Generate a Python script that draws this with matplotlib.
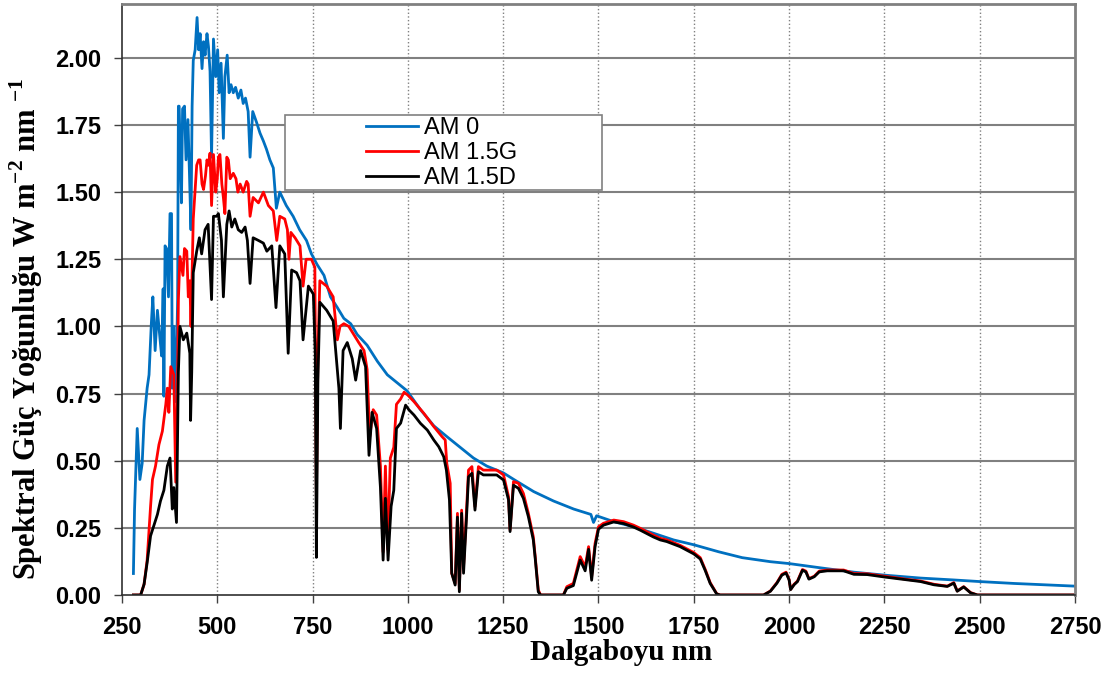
import matplotlib
matplotlib.use("Agg")
import matplotlib.pyplot as plt
from matplotlib.patches import Rectangle

plt.rcParams['mathtext.fontset'] = 'custom'
plt.rcParams['mathtext.rm'] = 'Liberation Serif:bold'
plt.rcParams['mathtext.bf'] = 'Liberation Serif:bold'

# values (nm, W m-2 nm-1)
am0_nm = [280, 283, 290, 297, 303, 308, 316, 321, 327, 331, 337, 343, 350, 354, 358,
          360, 363, 367, 372, 376, 380, 382, 386, 389, 391, 396, 398, 400, 403, 406,
          409, 414, 418, 423, 427, 431, 434, 437, 442, 447, 451, 455, 460, 464, 468,
          473, 477, 481, 485, 490, 496, 501, 505, 510, 516, 520, 526, 531, 536, 542,
          548, 555, 562, 568, 574, 581, 586, 593, 603, 612, 621, 629, 638, 647, 655,
          664, 681, 699, 716, 734, 747, 762, 780, 797, 815, 832, 850, 867, 893, 920,
          946, 972, 998, 1033, 1068, 1102, 1137, 1172, 1207, 1250, 1278, 1330, 1382, 1435,
          1480, 1487, 1495, 1540, 1592, 1644, 1697, 1750, 1815, 1877, 1951, 2000, 2083,
          2170, 2250, 2345, 2432, 2500, 2590, 2750]
am0_val = [0.08, 0.32, 0.62, 0.43, 0.49, 0.65, 0.77, 0.82, 1.01, 1.11, 0.91, 1.06, 0.95, 0.89, 1.14,
           0.74, 1.30, 1.29, 1.11, 1.42, 1.42, 0.77, 1.00, 0.83, 0.72, 1.10, 1.82, 1.82, 1.64, 1.46,
           1.81, 1.82, 1.62, 1.77, 1.57, 1.36, 1.82, 1.99, 2.03, 2.15, 2.03, 2.09, 1.96, 2.06, 2.01,
           2.09, 2.04, 1.95, 1.63, 2.07, 1.93, 2.03, 1.87, 1.98, 1.70, 1.93, 2.01, 1.87, 1.90, 1.87,
           1.89, 1.85, 1.88, 1.83, 1.85, 1.80, 1.63, 1.80, 1.76, 1.72, 1.69, 1.66, 1.62, 1.59, 1.44,
           1.50, 1.45, 1.41, 1.36, 1.32, 1.27, 1.23, 1.19, 1.11, 1.07, 1.03, 1.01, 0.97, 0.93, 0.87,
           0.82, 0.79, 0.76, 0.69, 0.63, 0.59, 0.55, 0.51, 0.48, 0.455, 0.43, 0.385, 0.35, 0.32,
           0.30, 0.27, 0.295, 0.273, 0.254, 0.23, 0.205, 0.187, 0.161, 0.139, 0.124, 0.117, 0.101,
           0.085, 0.074, 0.063, 0.056, 0.05, 0.043, 0.033]

g_nm = [280, 299, 308, 316, 325, 330, 338, 347, 356, 365, 369, 373, 378, 386, 391,
        395, 398, 402, 410, 414, 420, 424, 428, 431, 437, 446, 451, 455, 460, 464,
        469, 473, 477, 481, 485, 490, 496, 500, 503, 507, 512, 516, 520, 525, 529,
        534, 538, 542, 549, 554, 560, 568, 577, 581, 586, 594, 608, 621, 634, 647,
        656, 664, 677, 684, 688, 693, 704, 717, 725, 733, 747, 756, 760, 764, 769,
        787, 804, 815, 822, 832, 845, 858, 871, 885, 893, 900, 909, 918, 928, 935,
        941, 947, 954, 963, 970, 981, 990, 1000, 1016, 1042, 1068, 1090, 1098, 1102, 1111,
        1115, 1124, 1130, 1135, 1141, 1146, 1153, 1159, 1168, 1176, 1185, 1198, 1211, 1233, 1251,
        1264, 1268, 1277, 1290, 1303, 1316, 1329, 1334, 1342, 1348, 1408, 1417, 1434, 1452, 1465,
        1474, 1482, 1491, 1500, 1513, 1540, 1566, 1592, 1610, 1644, 1662, 1679, 1714, 1750, 1767,
        1780, 1793, 1810, 1819, 1933, 1951, 1968, 1981, 1992, 2000, 2004, 2013, 2022, 2035, 2044,
        2052, 2066, 2079, 2100, 2143, 2170, 2205, 2250, 2310, 2345, 2380, 2415, 2432, 2441, 2458,
        2476, 2494, 2750]
g_val = [0, 0, 0.04, 0.13, 0.33, 0.43, 0.48, 0.56, 0.61, 0.71, 0.77, 0.68, 0.85, 0.82, 0.42,
         0.69, 1.10, 1.26, 1.19, 1.29, 1.28, 1.11, 1.17, 1.00, 1.40, 1.60, 1.62, 1.62, 1.53, 1.51,
         1.56, 1.62, 1.60, 1.645, 1.45, 1.64, 1.50, 1.55, 1.63, 1.64, 1.53, 1.48, 1.42, 1.63, 1.62,
         1.55, 1.56, 1.57, 1.55, 1.50, 1.53, 1.50, 1.54, 1.53, 1.41, 1.48, 1.46, 1.50, 1.45, 1.43,
         1.32, 1.41, 1.40, 1.36, 1.25, 1.35, 1.33, 1.30, 1.15, 1.25, 1.25, 1.22, 0.35, 0.90, 1.17,
         1.15, 1.11, 0.95, 1.00, 1.01, 1.00, 0.97, 0.94, 0.91, 0.84, 0.59, 0.69, 0.67, 0.48, 0.16,
         0.48, 0.17, 0.51, 0.55, 0.71, 0.73, 0.755, 0.744, 0.72, 0.676, 0.627, 0.589, 0.577, 0.49, 0.416,
         0.081, 0.043, 0.304, 0.019, 0.316, 0.105, 0.292, 0.465, 0.478, 0.329, 0.478, 0.465, 0.465, 0.465, 0.447,
         0.366, 0.242, 0.422, 0.416, 0.378, 0.304, 0.217, 0.143, 0.019, 0, 0, 0.031, 0.043, 0.143, 0.105,
         0.18, 0.068, 0.192, 0.254, 0.267, 0.279, 0.273, 0.26, 0.248, 0.223, 0.211, 0.205, 0.185, 0.158, 0.139,
         0.095, 0.046, 0.005, 0, 0, 0.015, 0.046, 0.077, 0.085, 0.058, 0.021, 0.04, 0.052, 0.095, 0.089,
         0.061, 0.07, 0.089, 0.093, 0.093, 0.08, 0.079, 0.07, 0.058, 0.052, 0.04, 0.033, 0.046, 0.015, 0.031,
         0.009, 0, 0]

d_nm = [280, 299, 308, 316, 325, 334, 343, 351, 360, 369, 376, 382, 386, 393, 398,
        402, 411, 420, 428, 430, 433, 437, 446, 453, 459, 468, 476, 485, 490, 498,
        503, 511, 516, 525, 531, 538, 546, 555, 564, 573, 579, 586, 594, 608, 621,
        630, 643, 654, 664, 677, 686, 695, 708, 717, 725, 739, 752, 757, 760, 764,
        769, 787, 804, 819, 823, 830, 841, 854, 863, 876, 889, 898, 906, 918, 928,
        935, 941, 948, 956, 963, 970, 981, 994, 1003, 1016, 1033, 1051, 1068, 1081, 1094,
        1101, 1109, 1115, 1124, 1130, 1135, 1141, 1146, 1153, 1159, 1168, 1176, 1185, 1198, 1211,
        1233, 1251, 1264, 1268, 1277, 1290, 1303, 1316, 1329, 1334, 1342, 1348, 1408, 1417, 1434,
        1452, 1465, 1474, 1482, 1491, 1500, 1513, 1540, 1566, 1592, 1610, 1644, 1662, 1679, 1714,
        1750, 1767, 1780, 1793, 1810, 1819, 1933, 1951, 1968, 1981, 1992, 2000, 2004, 2013, 2022,
        2035, 2044, 2052, 2066, 2079, 2100, 2143, 2170, 2205, 2250, 2310, 2345, 2380, 2415, 2432,
        2441, 2458, 2476, 2494, 2750]
d_val = [0, 0, 0.04, 0.12, 0.22, 0.26, 0.30, 0.35, 0.39, 0.48, 0.51, 0.32, 0.40, 0.27, 0.83,
         1.00, 0.95, 0.975, 0.90, 0.65, 0.83, 1.20, 1.28, 1.33, 1.27, 1.36, 1.38, 1.10, 1.41, 1.41,
         1.42, 1.32, 1.11, 1.38, 1.43, 1.37, 1.40, 1.36, 1.35, 1.37, 1.32, 1.16, 1.33, 1.32, 1.31,
         1.28, 1.30, 1.07, 1.30, 1.27, 0.90, 1.21, 1.20, 1.17, 0.95, 1.15, 1.12, 0.90, 0.14, 0.80,
         1.09, 1.06, 1.02, 0.77, 0.62, 0.91, 0.94, 0.88, 0.80, 0.91, 0.85, 0.52, 0.68, 0.62, 0.40,
         0.13, 0.36, 0.13, 0.33, 0.39, 0.62, 0.64, 0.707, 0.689, 0.67, 0.639, 0.614, 0.577, 0.552, 0.515,
         0.465, 0.354, 0.081, 0.037, 0.29, 0.012, 0.304, 0.081, 0.267, 0.44, 0.453, 0.316, 0.459, 0.447, 0.447,
         0.447, 0.428, 0.354, 0.236, 0.409, 0.397, 0.36, 0.292, 0.205, 0.136, 0.012, 0, 0, 0.025, 0.035,
         0.13, 0.09, 0.17, 0.055, 0.18, 0.245, 0.26, 0.272, 0.266, 0.253, 0.241, 0.216, 0.205, 0.199, 0.18,
         0.153, 0.134, 0.091, 0.043, 0.004, 0, 0, 0.014, 0.044, 0.074, 0.082, 0.056, 0.02, 0.038, 0.05,
         0.092, 0.086, 0.059, 0.068, 0.086, 0.09, 0.09, 0.077, 0.076, 0.067, 0.056, 0.05, 0.038, 0.032, 0.044,
         0.014, 0.03, 0.008, 0, 0]

x_ticks = [250, 500, 750, 1000, 1250, 1500, 1750, 2000, 2250, 2500, 2750]
y_ticks = [0.00, 0.25, 0.50, 0.75, 1.00, 1.25, 1.50, 1.75, 2.00]

fig = plt.figure(figsize=(11.19, 6.73), dpi=100)
ax = fig.add_axes([0.109, 0.1159, 0.8517, 0.878])

ax.plot(am0_nm, am0_val, color='#0070C0', lw=2, label='AM 0')
ax.plot(g_nm, g_val, color='#FF0000', lw=2, label='AM 1.5G')
ax.plot(d_nm, d_val, color='black', lw=2, label='AM 1.5D')

ax.set_xlim(250, 2750)
ax.set_ylim(0, 2.2)
ax.set_xticks(x_ticks)
ax.set_yticks(y_ticks)
ax.set_yticklabels([f"{v:.2f}" for v in y_ticks])

# grid: solid horizontal, dotted vertical
for v in y_ticks[1:]:
    ax.axhline(v, color='#808080', lw=1.5, zorder=0)
for v in x_ticks[1:-1]:
    ax.axvline(v, color='#808080', lw=1, ls=':', zorder=0)

for s in ['top', 'right']:
    ax.spines[s].set_color('#808080')
    ax.spines[s].set_linewidth(2)
for s in ['left', 'bottom']:
    ax.spines[s].set_color('#303030')
    ax.spines[s].set_linewidth(1.2)

ax.tick_params(direction='out', length=6, width=1, color='#404040', pad=9)
for lab in ax.get_xticklabels() + ax.get_yticklabels():
    lab.set_fontfamily('Liberation Sans')
    lab.set_fontweight('bold')
    lab.set_fontsize(17)

ax.set_xlabel('Dalgaboyu nm', fontfamily='Liberation Serif', fontweight='bold', fontsize=21)
ax.xaxis.set_label_coords(0.5236, -0.075)
ax.set_ylabel(r'Spektral Güç Yoğunluğu W m$^{\mathbf{-2}}$ nm $^{\mathbf{-1}}$',
              fontfamily='Liberation Serif', fontweight='bold', fontsize=22)
ax.yaxis.set_label_coords(-0.081, 0.45)

# legend box like the original
ax.add_patch(Rectangle((0.171, 0.685), 0.333, 0.128, transform=ax.transAxes,
                       facecolor='white', edgecolor='#808080', lw=1.2, zorder=5))
leg = ax.legend(loc='upper left', bbox_to_anchor=(0.256, 0.809), frameon=False,
                prop={'family': 'Liberation Sans', 'size': 17},
                handlelength=2.2, handletextpad=0.25, labelspacing=0.13, borderpad=0,
                borderaxespad=0)
leg.set_zorder(6)

fig.savefig('out.png', dpi=100)
